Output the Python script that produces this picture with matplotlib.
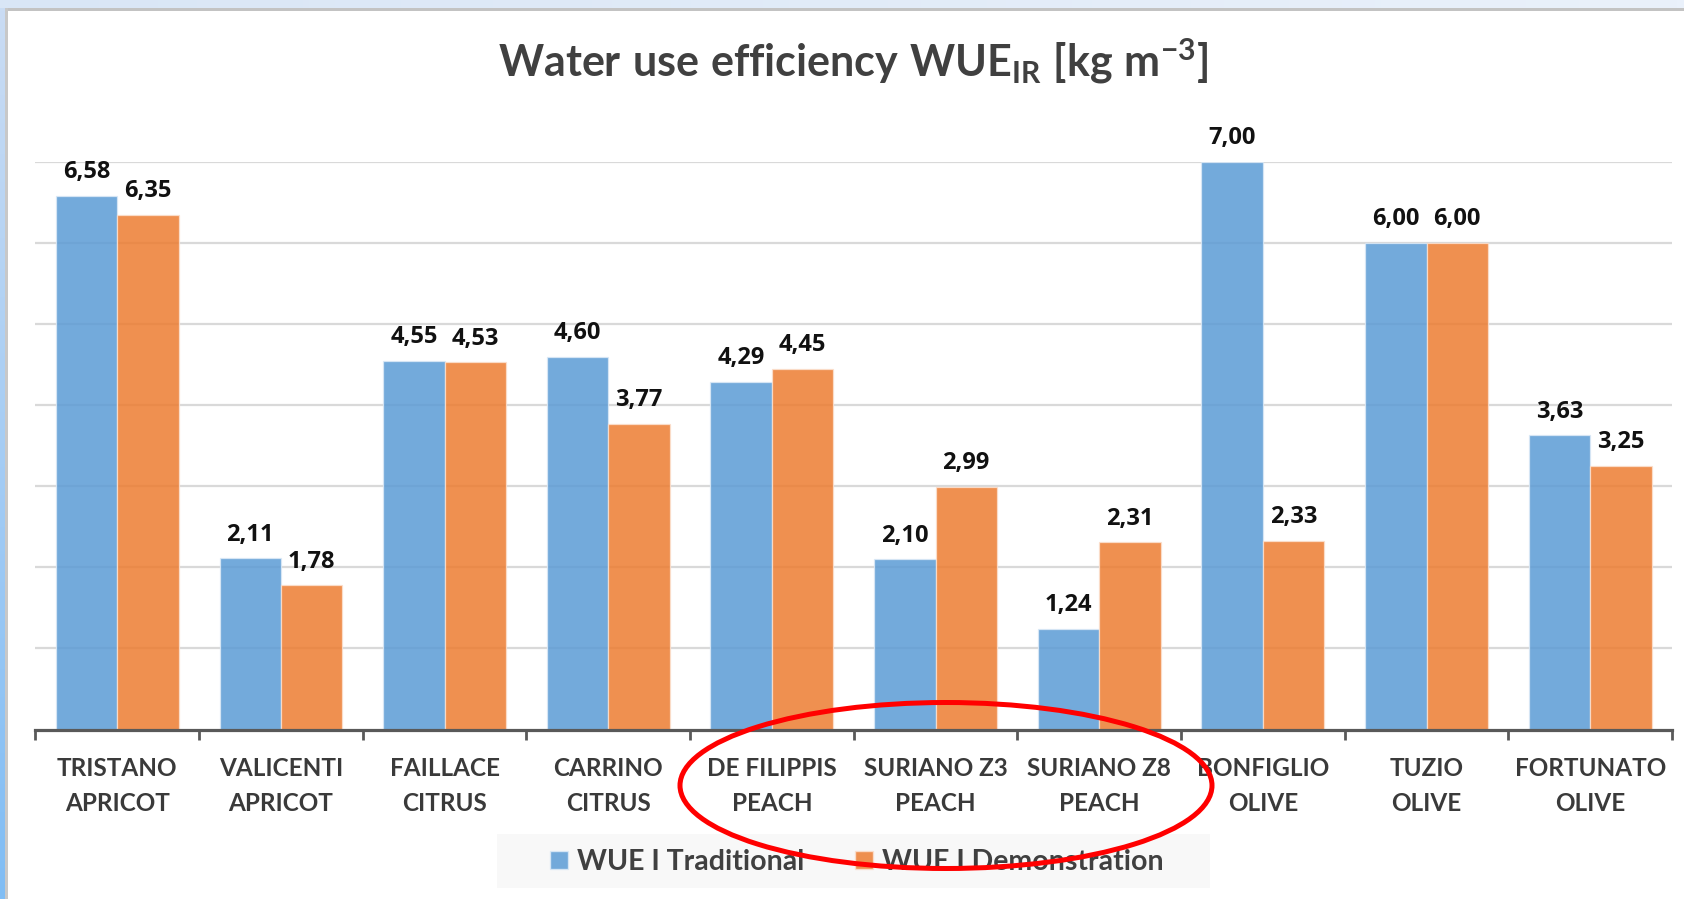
import matplotlib
matplotlib.use("Agg")
import matplotlib.pyplot as plt
import numpy as np
from matplotlib.patches import Rectangle, Ellipse, Patch

# ---- data ----
categories = ["TRISTANO\nAPRICOT", "VALICENTI\nAPRICOT", "FAILLACE\nCITRUS", "CARRINO\nCITRUS",
              "DE FILIPPIS\nPEACH", "SURIANO Z3\nPEACH", "SURIANO Z8\nPEACH", "BONFIGLIO\nOLIVE",
              "TUZIO\nOLIVE", "FORTUNATO\nOLIVE"]
wue_traditional = [6.58, 2.11, 4.55, 4.60, 4.29, 2.10, 1.24, 7.00, 6.00, 3.63]
wue_demonstration = [6.35, 1.78, 4.53, 3.77, 4.45, 2.99, 2.31, 2.33, 6.00, 3.25]
series_names = ["WUE I Traditional", "WUE I Demonstration"]
y_gridlines = [1, 2, 3, 4, 5, 6, 7]

plt.rcParams['font.family'] = ['Lato', 'DejaVu Sans']
plt.rcParams['mathtext.fontset'] = 'custom'
plt.rcParams['mathtext.rm'] = 'Lato:bold'
plt.rcParams['mathtext.it'] = 'Lato:bold'
plt.rcParams['mathtext.bf'] = 'Lato:bold'

W, H, DPI = 1684, 899, 100
fig = plt.figure(figsize=(W / DPI, H / DPI), dpi=DPI)
fig.patch.set_facecolor("white")

def px_rect(x0, y0_top, w, h, **kw):
    # rectangle given in pixel coords measured from top-left
    r = Rectangle((x0 / W, 1 - (y0_top + h) / H), w / W, h / H,
                  transform=fig.transFigure, **kw)
    fig.add_artist(r)
    return r

# slide frame decoration
grad_ax = fig.add_axes([0, 1 - 8 / H, 1, 8 / H])
grad_ax.imshow(np.linspace(0, 1, 256).reshape(1, -1), aspect='auto',
               cmap=matplotlib.colors.LinearSegmentedColormap.from_list("t", ["#d9e6f6", "#eaf1fb"]),
               extent=[0, 1, 0, 1])
grad_ax.axis('off')
left_ax = fig.add_axes([0, 0, 5 / W, 1 - 8 / H])
left_ax.imshow(np.linspace(0, 1, 256).reshape(-1, 1), aspect='auto',
               cmap=matplotlib.colors.LinearSegmentedColormap.from_list("l", ["#cadcf3", "#80bdf5"]),
               extent=[0, 1, 0, 1])
left_ax.axis('off')
px_rect(5, 8, W - 5, 2.5, color="#c3c3c3", lw=0)
px_rect(5, 8, 2.5, H - 8, color="#c8c8c8", lw=0)

# ---- main axes ----
ax_left, ax_right = 35.4, 1672
ax_top, ax_bottom = 162, 729.5
ax = fig.add_axes([ax_left / W, 1 - ax_bottom / H, (ax_right - ax_left) / W, (ax_bottom - ax_top) / H])

blue = "#5B9BD5"
orange = "#ED7D31"
x = np.arange(len(categories))
bw = 0.375
ax.bar(x - bw / 2, wue_traditional, bw, color=blue, alpha=0.85,
       edgecolor="#dbe9f6", linewidth=0.9, zorder=3)
ax.bar(x + bw / 2, wue_demonstration, bw, color=orange, alpha=0.85,
       edgecolor="#fbe0cf", linewidth=0.9, zorder=3)

label_kw = dict(textcoords="offset points", ha="center", va="center", fontsize=17,
                fontweight="bold", color="#111111", family=["Open Sans", "DejaVu Sans"],
                annotation_clip=False, zorder=5)
for xi, v in zip(x - bw / 2, wue_traditional):
    ax.annotate(f"{v:.2f}".replace(".", ","), (xi, v), xytext=(0, 17), **label_kw)
for xi, v in zip(x + bw / 2, wue_demonstration):
    ax.annotate(f"{v:.2f}".replace(".", ","), (xi, v), xytext=(0, 17), **label_kw)

ax.set_xlim(-0.5, len(categories) - 0.5)
ax.set_ylim(0, 7)
for g in y_gridlines:
    ax.axhline(g, color="#d9d9d9", lw=1.6, zorder=1)

for s in ["top", "right", "left"]:
    ax.spines[s].set_visible(False)
ax.spines["bottom"].set_color("#595959")
ax.spines["bottom"].set_linewidth(2.3)
ax.spines["bottom"].set_zorder(4)
ax.set_yticks([])
ax.set_xticks(x)
ax.set_xticklabels(categories, fontsize=17.5, fontweight="bold", color="#3a3a3a", linespacing=1.6)
ax.tick_params(axis="x", which="major", length=0, pad=20)
ax.set_xticks(np.arange(-0.5, len(categories), 1.0), minor=True)
ax.tick_params(axis="x", which="minor", length=7, width=2, color="#595959", direction="out")
ax.set_facecolor("none")

# title
fig.text(853 / W, 1 - 77 / H, r"$\mathrm{Water\ use\ efficiency\ WUE_{IR}\ [kg\ m^{-3}]}$",
         ha="center", va="baseline", fontsize=31, color="#404040")

# legend
px_rect(497, 834, 713, 54, color="#f8f8f8", lw=0)
handles = [Patch(facecolor=blue, alpha=0.85, edgecolor="#dbe9f6"),
           Patch(facecolor=orange, alpha=0.85, edgecolor="#fbe0cf")]
leg = fig.legend(handles, series_names, loc="center", bbox_to_anchor=(857 / W, 1 - 862 / H),
                 ncol=2, frameon=False, handlelength=0.62, handleheight=0.58,
                 handletextpad=0.33, columnspacing=1.8,
                 prop={"family": ["Lato", "DejaVu Sans"], "weight": "bold", "size": 20.5})
for t in leg.get_texts():
    t.set_color("#404040")

# red annotation ellipse
e = Ellipse((946 / W, 1 - 785.5 / H), 532 / W, 166 / H, transform=fig.transFigure,
            fill=False, edgecolor="#ff0000", lw=3.6, zorder=10)
fig.add_artist(e)

fig.savefig("out.png", dpi=DPI)
